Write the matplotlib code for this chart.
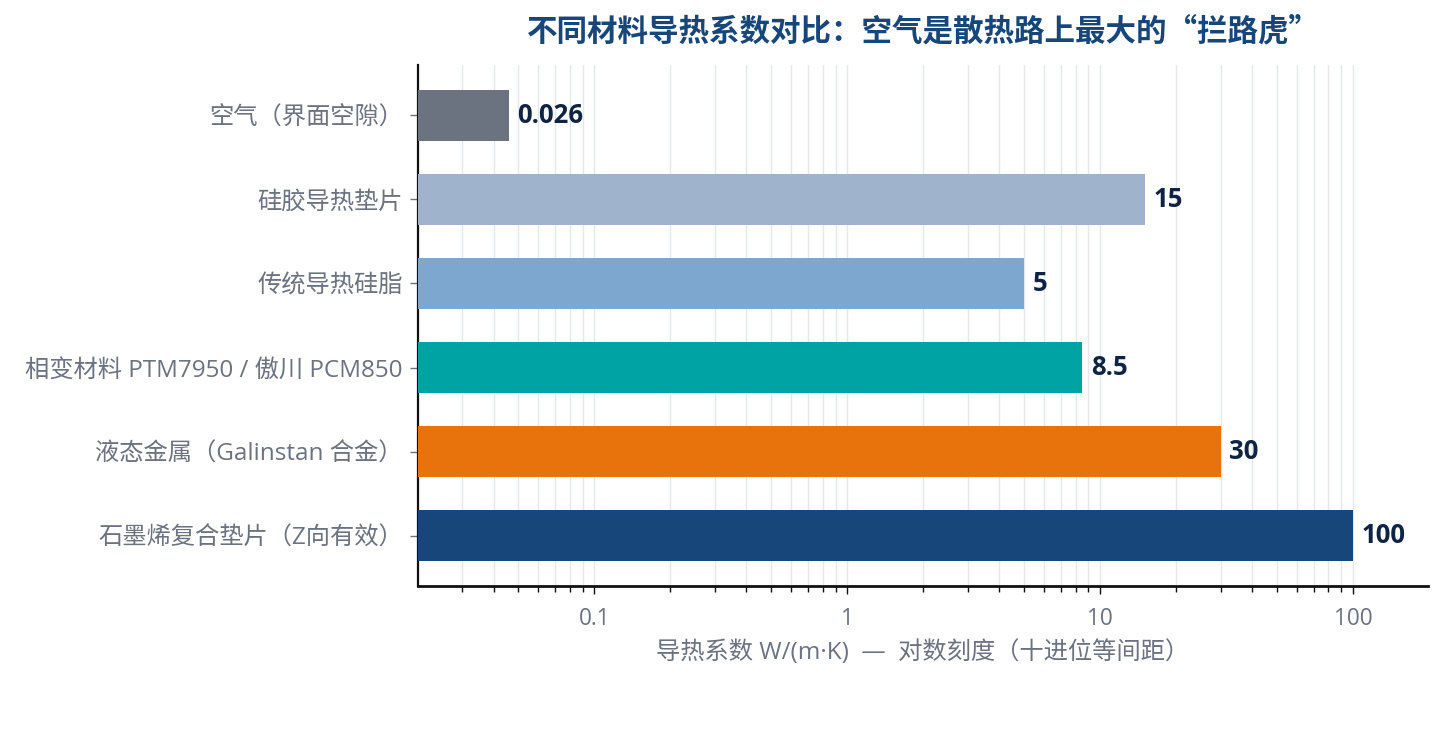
import matplotlib
matplotlib.use("Agg")
import matplotlib.pyplot as plt
from matplotlib.ticker import LogLocator, FixedLocator, NullFormatter

plt.rcParams['font.family'] = ['Open Sans', 'Noto Sans CJK SC', 'DejaVu Sans']

# data (top to bottom)
materials = [
    "空气（界面空隙）",
    "硅胶导热垫片",
    "传统导热硅脂",
    "相变材料 PTM7950 / 傲川 PCM850",
    "液态金属（Galinstan 合金）",
    "石墨烯复合垫片（Z向有效）",
]
bar_lengths = [0.046, 15, 5, 8.5, 30, 100]
value_labels = ["0.026", "15", "5", "8.5", "30", "100"]
colors = ["#6B7280", "#9FB4CC", "#7EA7D0", "#00A3A3", "#E8720C", "#17477A"]

GRAY = "#6B7280"
NAVY = "#17477A"


def main():
    fig = plt.figure(figsize=(14.45, 7.46), dpi=100)
    ax = fig.add_axes([418 / 1445, 1 - 586 / 746, 1010 / 1445, 521 / 746])

    y = list(range(len(materials)))
    ax.barh(y, bar_lengths, height=0.6, color=colors, zorder=3)

    for yi, v, lab in zip(y, bar_lengths, value_labels):
        ax.text(v * 1.08, yi, lab, va="center", ha="left",
                fontsize=18.5, fontweight="bold", color="#0F2442", zorder=4)

    ax.set_xscale("log")
    ax.set_xlim(0.0201, 198)
    ax.set_ylim(5.6, -0.6)

    ax.xaxis.set_major_locator(FixedLocator([0.1, 1, 10, 100]))
    ax.set_xticklabels(["0.1", "1", "10", "100"])
    ax.xaxis.set_minor_locator(LogLocator(base=10, subs=range(2, 10), numticks=20))
    ax.xaxis.set_minor_formatter(NullFormatter())

    ax.set_yticks(y)
    ax.set_yticklabels(materials)

    ax.grid(True, axis="x", which="both", color="#E5E7EB", linewidth=1, zorder=0)

    for s in ["top", "right"]:
        ax.spines[s].set_visible(False)
    ax.spines["left"].set_linewidth(1.6)
    ax.spines["bottom"].set_linewidth(2)
    ax.spines["left"].set_color("#111111")
    ax.spines["bottom"].set_color("#111111")

    ax.tick_params(axis="x", which="major", length=6, width=1, color="#111111",
                   labelsize=16.3, labelcolor=GRAY, pad=9)
    ax.tick_params(axis="x", which="minor", length=4, width=1, color="#111111")
    ax.tick_params(axis="y", length=6, width=1, color=GRAY,
                   labelsize=17.5, labelcolor=GRAY, pad=5)

    ax.set_xlabel("导热系数 W/(m·K)  —  对数刻度（十进位等间距）",
                  fontsize=17.5, color=GRAY, labelpad=7)
    ax.set_title("不同材料导热系数对比：空气是散热路上最大的“拦路虎”",
                 fontsize=22, fontweight="bold", color=NAVY, pad=18,
                 family=['Noto Sans CJK SC', 'DejaVu Sans'])

    fig.savefig("out.png", dpi=100, facecolor="white")


if __name__ == "__main__":
    main()
